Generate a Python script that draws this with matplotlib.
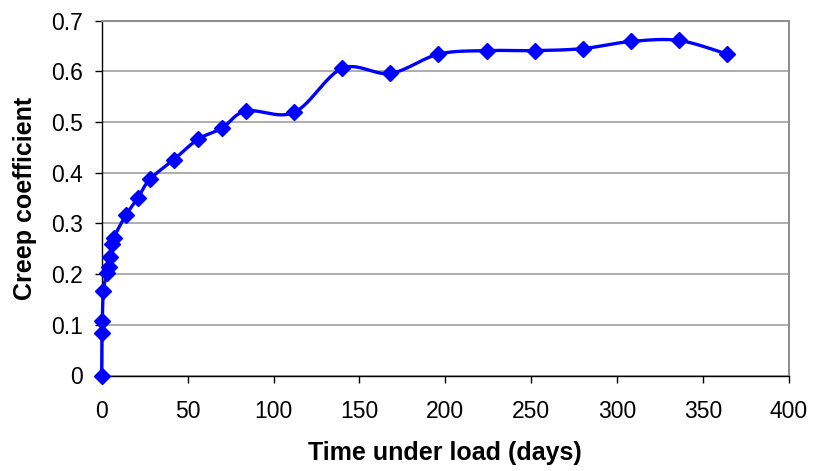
import numpy as np
import matplotlib
matplotlib.use("Agg")
import matplotlib.pyplot as plt

plt.rcParams['font.family'] = ['Liberation Sans', 'DejaVu Sans']

# Data
days = [0, 0.1, 0.3, 1, 3, 4, 5, 6, 7, 14, 21, 28, 42, 56, 70, 84,
        112, 140, 168, 196, 224, 252, 280, 308, 336, 364]
creep = [0.0, 0.083, 0.107, 0.167, 0.202, 0.215, 0.233, 0.260, 0.272,
         0.316, 0.350, 0.387, 0.426, 0.466, 0.488, 0.522, 0.519, 0.606,
         0.596, 0.634, 0.641, 0.641, 0.645, 0.659, 0.661, 0.634]

xlim = (0, 400)
ylim = (0, 0.7)


def smooth_line(x, y, sx, sy, n=30):
    # Excel-style smoothed line (Catmull-Rom Bezier), computed in screen units
    p = np.column_stack([np.asarray(x) * sx, np.asarray(y) * sy])
    p = np.vstack([p[0], p, p[-1]])
    out = [p[1]]
    t = np.linspace(0, 1, n)[1:, None]
    for i in range(1, len(p) - 2):
        p0, p1, p2, p3 = p[i - 1], p[i], p[i + 1], p[i + 2]
        c1 = p1 + (p2 - p0) / 6
        c2 = p2 - (p3 - p1) / 6
        seg = ((1 - t) ** 3) * p1 + 3 * ((1 - t) ** 2) * t * c1 \
            + 3 * (1 - t) * t ** 2 * c2 + t ** 3 * p2
        out.extend(seg)
    out = np.array(out)
    return out[:, 0] / sx, out[:, 1] / sy


fig = plt.figure(figsize=(8.14, 4.71), dpi=100)
ax = fig.add_axes([101.7 / 814, 1 - 375.5 / 471, (789 - 101.7) / 814, (375.5 - 20.7) / 471])

w_px = 789 - 101.7
h_px = 375.5 - 20.7
lx, ly = smooth_line(days, creep, w_px / (xlim[1] - xlim[0]), h_px / (ylim[1] - ylim[0]))
ax.plot(lx, ly, color='#0000ff', linewidth=2.4, zorder=3, clip_on=False)
ax.plot(days, creep, linestyle='none', marker='D', markersize=8.5,
        color='#0000ff', zorder=4, clip_on=False)

ax.set_xlim(*xlim)
ax.set_ylim(*ylim)
ax.set_xticks(np.arange(0, 401, 50))
ax.set_yticks(np.arange(0, 0.71, 0.1))
ax.set_yticklabels(['0', '0.1', '0.2', '0.3', '0.4', '0.5', '0.6', '0.7'])

ax.yaxis.grid(True, color='#a0a0a0', linewidth=1.2)
ax.set_axisbelow(True)

for s in ['top', 'right']:
    ax.spines[s].set_color('#8c8c8c')
    ax.spines[s].set_linewidth(1.4)
for s in ['left', 'bottom']:
    ax.spines[s].set_color('black')
    ax.spines[s].set_linewidth(1.0)

ax.tick_params(axis='both', direction='out', length=4.8, width=1, labelsize=16.5)
ax.tick_params(axis='x', pad=12.5)
ax.tick_params(axis='y', pad=9)

ax.set_xlabel("Time under load (days)", fontsize=18, fontweight='bold', labelpad=13)
ax.set_ylabel("Creep coefficient", fontsize=18, fontweight='bold', labelpad=10)

plt.savefig("out.png", dpi=100)
